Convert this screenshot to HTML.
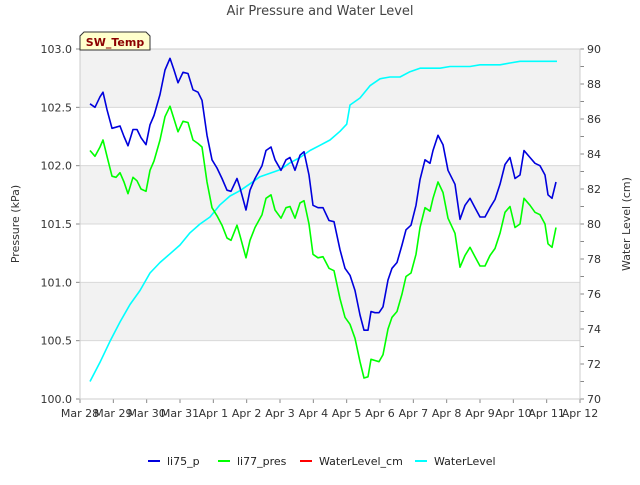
<!DOCTYPE html>
<html><head><meta charset="utf-8"><style>
body{margin:0;background:#fff;font-family:"Liberation Sans","DejaVu Sans",sans-serif}
svg text{font-family:"DejaVu Sans","Liberation Sans",sans-serif}
</style></head><body>
<svg id="c" width="640" height="480" viewBox="0 0 640 480"></svg>
<script>
const xTickLabels=["Mar 28","Mar 29","Mar 30","Mar 31","Apr 1","Apr 2","Apr 3","Apr 4","Apr 5","Apr 6","Apr 7","Apr 8","Apr 9","Apr 10","Apr 11","Apr 12"];
const leftTicks=[100.0,100.5,101.0,101.5,102.0,102.5,103.0];
const rightTicks=[70,72,74,76,78,80,82,84,86,88,90];
const pDays=[0.3,0.45,0.6,0.69,0.81,0.96,1.08,1.2,1.32,1.44,1.59,1.71,1.83,1.98,2.1,2.22,2.4,2.55,2.7,2.82,2.94,3.09,3.24,3.39,3.54,3.66,3.81,3.96,4.11,4.26,4.41,4.53,4.71,4.8,4.98,5.1,5.25,5.46,5.58,5.73,5.85,6.03,6.18,6.3,6.45,6.6,6.72,6.87,6.99,7.14,7.29,7.47,7.62,7.8,7.95,8.1,8.25,8.4,8.52,8.64,8.73,8.85,8.97,9.09,9.24,9.36,9.51,9.66,9.78,9.93,10.08,10.2,10.35,10.5,10.59,10.74,10.89,11.04,11.25,11.4,11.55,11.7,11.85,12.0,12.15,12.3,12.45,12.6,12.75,12.9,13.05,13.2,13.32,13.5,13.65,13.8,13.95,14.04,14.16,14.28];
const li75=[102.53,102.50,102.59,102.63,102.48,102.32,102.33,102.34,102.25,102.17,102.31,102.31,102.24,102.18,102.35,102.43,102.61,102.82,102.92,102.82,102.71,102.80,102.79,102.65,102.63,102.56,102.26,102.05,101.98,101.89,101.79,101.78,101.89,101.81,101.62,101.79,101.89,102.0,102.13,102.16,102.05,101.96,102.05,102.07,101.96,102.09,102.12,101.92,101.66,101.64,101.64,101.53,101.52,101.28,101.12,101.06,100.93,100.72,100.59,100.59,100.75,100.74,100.74,100.79,101.02,101.12,101.17,101.32,101.45,101.49,101.66,101.88,102.05,102.02,102.13,102.26,102.18,101.96,101.84,101.54,101.66,101.72,101.64,101.56,101.56,101.64,101.71,101.84,102.01,102.07,101.89,101.92,102.13,102.07,102.02,102.0,101.92,101.75,101.72,101.86];
const li77=[102.13,102.08,102.16,102.22,102.08,101.91,101.90,101.94,101.86,101.76,101.90,101.87,101.80,101.78,101.96,102.04,102.22,102.42,102.51,102.40,102.29,102.38,102.37,102.22,102.19,102.16,101.86,101.64,101.57,101.49,101.38,101.36,101.49,101.40,101.21,101.36,101.47,101.58,101.72,101.75,101.62,101.55,101.64,101.65,101.55,101.68,101.70,101.50,101.24,101.21,101.22,101.12,101.10,100.86,100.70,100.64,100.52,100.32,100.18,100.19,100.34,100.33,100.32,100.38,100.60,100.70,100.75,100.90,101.05,101.08,101.24,101.47,101.64,101.61,101.72,101.86,101.77,101.55,101.42,101.13,101.23,101.30,101.22,101.14,101.14,101.23,101.29,101.42,101.60,101.65,101.47,101.50,101.72,101.66,101.60,101.58,101.50,101.33,101.30,101.47];
const wDays=[0.3,0.6,0.9,1.2,1.5,1.8,2.1,2.4,2.7,3.0,3.3,3.6,3.9,4.2,4.5,4.8,5.1,5.4,5.7,6.0,6.3,6.6,6.9,7.2,7.5,7.8,8.0,8.1,8.4,8.7,9.0,9.3,9.6,9.9,10.2,10.5,10.8,11.1,11.4,11.7,12.0,12.3,12.6,12.9,13.2,13.5,13.8,14.31];
const water=[71.0,72.1,73.3,74.4,75.4,76.2,77.2,77.8,78.3,78.8,79.5,80.0,80.4,81.1,81.6,81.9,82.3,82.7,82.9,83.1,83.5,83.8,84.2,84.5,84.8,85.3,85.7,86.8,87.2,87.9,88.3,88.4,88.4,88.7,88.9,88.9,88.9,89.0,89.0,89.0,89.1,89.1,89.1,89.2,89.3,89.3,89.3,89.3];

const L=80,R=580,T=49,B=399;
const xs=d=>L+d*(R-L)/15;
const yl=v=>B-(v-100)*(B-T)/3;
const yr=v=>B-(v-70)*(B-T)/20;
const svg=document.getElementById('c');
const NS='http://www.w3.org/2000/svg';
function mk(tag,attrs,parent){const e=document.createElementNS(NS,tag);for(const k in attrs)e.setAttribute(k,attrs[k]);(parent||svg).appendChild(e);return e;}
// bands
for(let v=100.5;v<103;v+=1){const r=mk('rect',{x:L,y:yl(v+0.5),width:R-L,height:yl(v)-yl(v+0.5),fill:'#f2f2f2'});

}
leftTicks.forEach(v=>{const g=mk('line',{x1:L,x2:R,y1:yl(v),y2:yl(v),stroke:'#d8d8d8','stroke-width':1});


mk('line',{x1:L-4,x2:L,y1:yl(v),y2:yl(v),stroke:'#888'});
const t=mk('text',{x:L-8,y:yl(v)+4,'text-anchor':'end','font-size':11,fill:'#333'});t.textContent=v.toFixed(1);

});
rightTicks.forEach(v=>{mk('line',{x1:R,x2:R+4,y1:yr(v),y2:yr(v),stroke:'#888'});
if(v<90)mk('line',{x1:R,x2:R+4,y1:yr(v+1),y2:yr(v+1),stroke:'#888'});
const t=mk('text',{x:R+7,y:yr(v)+4,'font-size':11,fill:'#333'});t.textContent=v;

});
xTickLabels.forEach((s,i)=>{mk('line',{x1:xs(i),x2:xs(i),y1:B,y2:B+4,stroke:'#888'});
const t=mk('text',{x:xs(i),y:B+18,'text-anchor':'middle','font-size':11,fill:'#333'});t.textContent=s;

});
const fr=mk('rect',{x:L,y:T,width:R-L,height:B-T,fill:'none',stroke:'#ccc'});


function line(xsArr,ys,fy,col,name){const d=xsArr.map((x,i)=>(i?'L':'M')+xs(x).toFixed(1)+','+fy(ys[i]).toFixed(1)).join('');
const p=mk('path',{d:d,fill:'none',stroke:col,'stroke-width':1.6,'stroke-linejoin':'round'});

}
line(wDays,water,yr,'#00ffff','series-waterlevel');
line(pDays,li77,yl,'#00ff00','series-li77-pres');
line(pDays,li75,yl,'#0000dd','series-li75-p');
// texts
function txt(x,y,s,opt,name){const t=mk('text',Object.assign({x:x,y:y},opt));t.textContent=s;return t;}
txt(320,15,'Air Pressure and Water Level',{'text-anchor':'middle','font-size':13,fill:'#444'},'chart-title');
txt(19,224,'Pressure (kPa)',{'text-anchor':'middle','font-size':11,fill:'#333',transform:'rotate(-90 19 224)'},'y-left-title');
txt(630,224,'Water Level (cm)',{'text-anchor':'middle','font-size':11,fill:'#333',transform:'rotate(-90 630 224)'},'y-right-title');
const b=mk('path',{d:'M80,50 L80,36 L84,32 L146,32 L150,36 L150,50 Z',fill:'#ffffcc',stroke:'#333'});


txt(115,46,'SW_Temp',{'text-anchor':'middle','font-size':11,'font-weight':'bold',fill:'#8b0000'},'sw-temp-label');
const leg=[['li75_p','#0000dd',148],['li77_pres','#00ff00',218],['WaterLevel_cm','#ff0000',300],['WaterLevel','#00ffff',415]];
leg.forEach(([s,c,x])=>{const l=mk('line',{x1:x,x2:x+12,y1:461,y2:461,stroke:c,'stroke-width':2});


txt(x+19,465,s,{'font-size':11,fill:'#222'},'legend-entry');});
</script>
</body></html>
